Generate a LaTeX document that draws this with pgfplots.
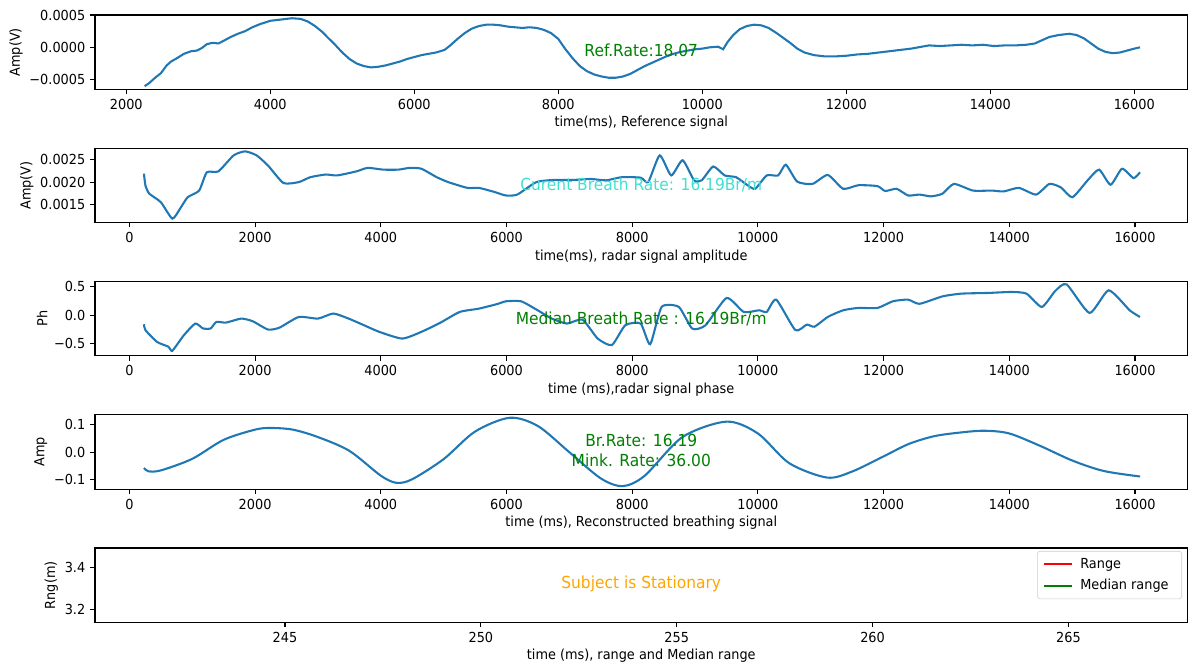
\documentclass[border=0pt]{standalone}
\usepackage{fontspec}
\setmainfont{DejaVu Sans}[FakeStretch=0.93]
\usepackage{pgfplots}
\pgfplotsset{compat=1.18}

\definecolor{mplblue}{HTML}{1F77B4}
\definecolor{mplgreen}{HTML}{008000}
\definecolor{mplred}{HTML}{FF0000}
\definecolor{mplorange}{HTML}{FFA500}
\definecolor{mplturq}{HTML}{40E0D0}

\tikzset{note/.style={font=\fontsize{12}{14}\selectfont, anchor=center}}

\pgfplotsset{
  panel/.style={
    scale only axis,
    width=786.6bp, height=53.57bp,
    anchor=north west,
    axis line style={line width=0.8pt, black},
    every tick/.style={line width=0.8pt, black},
    tick align=outside,
    major tick length=3.5pt,
    xtick pos=left, ytick pos=left,
    scaled x ticks=false, scaled y ticks=false,
    /pgf/number format/assume math mode=true,
    /pgf/number format/1000 sep={},
    tick label style={font=\fontsize{10}{12}\selectfont},
    label style={font=\fontsize{10}{12}\selectfont},
    xlabel style={yshift=2bp},
    ylabel style={yshift=-2bp},
    cycle list={{mplblue, mark=none}},
    every axis plot/.append style={line width=1.5pt},
  },
}

\begin{document}
\begin{tikzpicture}
\useasboundingbox (0,0) rectangle (856.08bp,477.36bp);

% ---------------- reference signal ----------------
\begin{axis}[panel, at={(68.4bp,466.56bp)},
  xmin=1565, xmax=16740, ymin=-0.00065, ymax=0.0005,
  xtick={2000,4000,...,16000},
  ytick={-0.0005,0,0.0005}, yticklabels={−0.0005,0.0000,0.0005},
  xlabel={time(ms), Reference signal}, ylabel={Amp(V)}]
\addplot coordinates {
(2255,-0.00060) (2320,-0.00055) (2400,-0.00047) (2480,-0.00040) (2560,-0.00028)
(2620,-0.00022) (2700,-0.00017) (2800,-0.00010) (2900,-0.00006) (2980,-0.00005)
(3050,-0.00001) (3120,0.00005) (3200,0.00007) (3280,0.00006) (3350,0.00010)
(3450,0.00016) (3550,0.00021) (3650,0.00025) (3750,0.00031) (3860,0.00036)
(4000,0.00041) (4150,0.00043) (4300,0.00045) (4420,0.00044) (4520,0.00040)
(4620,0.00033) (4720,0.00024) (4800,0.00015) (4900,0.00004) (5000,-0.00008)
(5100,-0.00018) (5200,-0.00025) (5300,-0.00029) (5400,-0.00031) (5500,-0.00030)
(5600,-0.00028) (5700,-0.00025) (5800,-0.00022) (5900,-0.00018) (6000,-0.00015)
(6100,-0.00012) (6200,-0.00010) (6300,-0.00008) (6420,-0.00004) (6500,0.00003)
(6600,0.00013) (6700,0.00022) (6800,0.00029) (6900,0.00033) (7000,0.00035)
(7100,0.00035) (7200,0.00034) (7300,0.00032) (7400,0.00031) (7500,0.00030)
(7600,0.00031) (7700,0.00030) (7800,0.00027) (7900,0.00022) (8000,0.00013)
(8100,-0.00003) (8200,-0.00017) (8300,-0.00029) (8400,-0.00037) (8500,-0.00042)
(8600,-0.00045) (8700,-0.00047) (8800,-0.00047) (8900,-0.00045) (9000,-0.00041)
(9100,-0.00035) (9200,-0.00029) (9300,-0.00024) (9400,-0.00019) (9500,-0.00014)
(9600,-0.00010) (9700,-0.00007) (9800,-0.00005) (9900,-0.00003) (10000,-0.00002)
(10100,0.00000) (10220,0.00001) (10290,-0.00003) (10350,0.00008) (10430,0.00019)
(10520,0.00028) (10620,0.00033) (10720,0.00035) (10820,0.00034) (10920,0.00030)
(11020,0.00023) (11120,0.00015) (11220,0.00007) (11320,-0.00002) (11420,-0.00008)
(11550,-0.00012) (11700,-0.00014) (11850,-0.00014) (12000,-0.00013) (12150,-0.00011)
(12300,-0.00010) (12450,-0.00008) (12600,-0.00006) (12750,-0.00004) (12900,-0.00002)
(13050,0.00001) (13150,0.00003) (13300,0.00002) (13450,0.00003) (13600,0.00004)
(13750,0.00003) (13900,0.00004) (14050,0.00002) (14200,0.00003) (14350,0.00003)
(14500,0.00004) (14620,0.00006) (14720,0.00011) (14820,0.00016) (14950,0.00019)
(15100,0.00021) (15200,0.00019) (15300,0.00014) (15400,0.00006) (15500,-0.00002)
(15600,-0.00007) (15700,-0.00009) (15800,-0.00008) (15900,-0.00005) (16000,-0.00002)
(16080,0.00000)
};
\node[note, text=mplgreen] at (rel axis cs:0.5,0.52) {Ref.Rate:18.07};
\end{axis}

% ---------------- radar amplitude ----------------
\begin{axis}[panel, at={(68.4bp,370.62bp)},
  xmin=-547, xmax=16835, ymin=0.00109, ymax=0.00276,
  xtick={0,2000,...,16000},
  ytick={0.0015,0.002,0.0025}, yticklabels={0.0015,0.0020,0.0025},
  xlabel={time(ms), radar signal amplitude}, ylabel={Amp(V)}]
\addplot+[smooth, tension=0.35] coordinates {
(232,0.00219) (256,0.00192) (317,0.00174) (500,0.00155) (683,0.00118)
(805,0.00140) (927,0.00166) (1110,0.00181) (1232,0.00222) (1415,0.00224)
(1659,0.00260) (1841,0.00269) (2024,0.00260) (2207,0.00237) (2451,0.00198)
(2695,0.00200) (2878,0.00211) (3122,0.00217) (3305,0.00215) (3610,0.00224)
(3793,0.00232) (4037,0.00228) (4280,0.00228) (4463,0.00232) (4646,0.00230)
(4890,0.00211) (5073,0.00200) (5378,0.00187) (5561,0.00187) (5805,0.00178)
(5988,0.00170) (6171,0.00172) (6476,0.00200) (6780,0.00205) (7085,0.00205)
(7343,0.00207) (7586,0.00204) (7830,0.00211) (8134,0.00210) (8255,0.00200)
(8438,0.00260) (8620,0.00215) (8802,0.00249) (8985,0.00204) (9106,0.00204)
(9289,0.00235) (9471,0.00215) (9653,0.00211) (9836,0.00193) (9957,0.00185)
(10140,0.00215) (10322,0.00215) (10444,0.00239) (10626,0.00201) (10869,0.00196)
(11112,0.00216) (11356,0.00185) (11599,0.00193) (11903,0.00191) (12024,0.00180)
(12207,0.00185) (12389,0.00170) (12571,0.00172) (12754,0.00168) (12936,0.00174)
(13119,0.00196) (13422,0.00181) (13726,0.00181) (13909,0.00179) (14152,0.00187)
(14426,0.00172) (14638,0.00196) (14821,0.00188) (15003,0.00166) (15246,0.00204)
(15428,0.00228) (15611,0.00194) (15793,0.00230) (15976,0.00209) (16079,0.00222)
};
\node[note, text=mplturq] at (rel axis cs:0.5,0.5) {Curent Breath Rate: 16.19Br/m};
\end{axis}

% ---------------- radar phase ----------------
\begin{axis}[panel, at={(68.4bp,274.68bp)},
  xmin=-547, xmax=16835, ymin=-0.71, ymax=0.59,
  xtick={0,2000,...,16000},
  ytick={-0.5,0,0.5}, yticklabels={−0.5,0.0,0.5},
  xlabel={time (ms),radar signal phase}, ylabel={Ph}]
\addplot+[smooth, tension=0.35] coordinates {
(232,-0.157) (256,-0.26) (439,-0.465) (622,-0.55) (683,-0.62)
(866,-0.35) (1049,-0.145) (1171,-0.23) (1293,-0.23) (1384,-0.116)
(1537,-0.128) (1780,-0.058) (1963,-0.105) (2207,-0.25) (2390,-0.215)
(2695,-0.03) (3000,-0.058) (3244,0.03) (3488,-0.058) (3732,-0.174)
(3976,-0.29) (4341,-0.407) (4646,-0.29) (4951,-0.128) (5256,0.058)
(5561,0.116) (5866,0.2) (5988,0.244) (6232,0.244) (6476,0.1)
(6720,-0.058) (6964,-0.145) (7208,-0.076) (7451,-0.407) (7677,-0.52)
(7890,-0.174) (8134,-0.145) (8286,-0.506) (8468,0.145) (8742,0.145)
(8955,-0.233) (9167,-0.174) (9502,0.302) (9775,0.058) (10018,0.087)
(10140,0.058) (10292,0.273) (10596,-0.26) (10778,-0.163) (10900,-0.2)
(11112,-0.029) (11356,0.087) (11599,0.128) (11903,0.128) (12146,0.244)
(12389,0.273) (12571,0.2) (12936,0.33) (13240,0.378) (13666,0.39)
(14030,0.407) (14273,0.378) (14517,0.145) (14730,0.424) (14912,0.54)
(15277,0.04) (15581,0.436) (15915,0.087) (16079,-0.03)
};
\node[note, text=mplgreen] at (rel axis cs:0.5,0.5) {Median Breath Rate : 16.19Br/m};
\end{axis}

% ---------------- reconstructed breathing ----------------
\begin{axis}[panel, at={(68.4bp,178.74bp)},
  xmin=-547, xmax=16835, ymin=-0.134, ymax=0.136,
  xtick={0,2000,...,16000},
  ytick={-0.1,0,0.1}, yticklabels={−0.1,0.0,0.1},
  xlabel={time (ms), Reconstructed breathing signal}, ylabel={Amp}]
\addplot+[smooth] coordinates {
(232,-0.057) (300,-0.069) (500,-0.066) (1000,-0.024) (1500,0.045)
(2000,0.082) (2250,0.088) (2600,0.082) (3000,0.055) (3500,0.005)
(4000,-0.085) (4250,-0.111) (4500,-0.098) (5000,-0.025) (5500,0.075)
(6050,0.125) (6500,0.095) (7000,0.0) (7500,-0.095) (7850,-0.123)
(8200,-0.085) (8800,0.055) (9500,0.111) (10000,0.068) (10500,-0.04)
(11100,-0.092) (11500,-0.07) (12000,-0.015) (12400,0.030) (12800,0.058)
(13200,0.071) (13600,0.078) (14000,0.068) (14500,0.022) (15000,-0.030)
(15500,-0.068) (16080,-0.088)
};
\node[note, text=mplgreen, align=center] at (rel axis cs:0.5,0.52)
  {Br.Rate: 16.19\\Mink. Rate: 36.00};
\end{axis}

% ---------------- range ----------------
\begin{axis}[panel, at={(68.4bp,82.8bp)},
  xmin=240.15, xmax=268.04, ymin=3.14, ymax=3.49,
  xtick={245,250,...,265},
  ytick={3.2,3.4}, yticklabels={3.2,3.4},
  xlabel={time (ms), range and Median range}, ylabel={Rng(m)},
  legend cell align=left,
  legend image code/.code={\draw[#1] (0pt,0pt) -- (20pt,0pt);},
  legend style={at={(0.995,0.96)}, anchor=north east, draw=black!20,
    rounded corners=2pt, font=\fontsize{10}{12}\selectfont,
    row sep=2.5pt, inner xsep=4pt, inner ysep=3pt,
    nodes={inner xsep=5.5pt}}]
\addlegendimage{mplred, line width=1.5pt}
\addlegendentry{Range}
\addlegendimage{mplgreen, line width=1.5pt}
\addlegendentry{Median range}
\node[note, text=mplorange] at (rel axis cs:0.5,0.52) {Subject is Stationary};
\end{axis}

\end{tikzpicture}
\end{document}
